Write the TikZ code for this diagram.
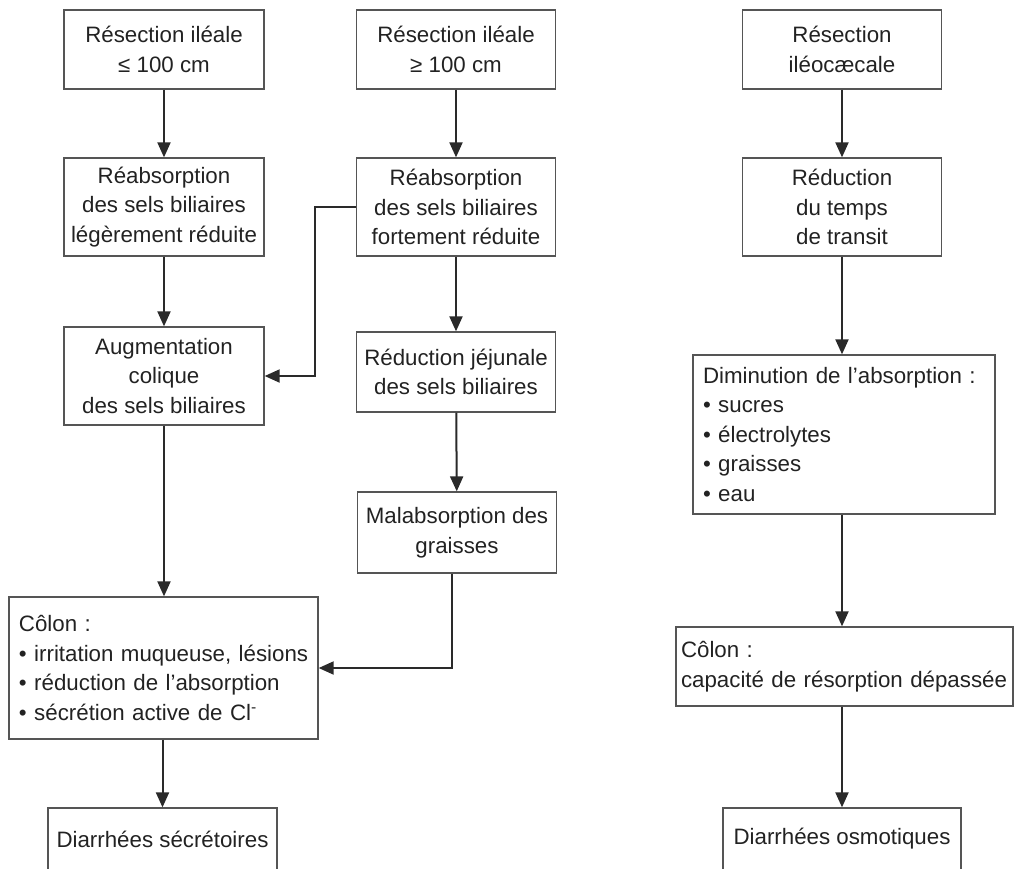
\documentclass[tikz,border=0pt]{standalone}
\usepackage{fontspec}
\setmainfont{Liberation Sans}
\usepackage{tikz}
\usetikzlibrary{arrows.meta,calc}

\definecolor{boxgray}{HTML}{555555}
\definecolor{arrowgray}{HTML}{2A2A2A}
\definecolor{textgray}{HTML}{222222}

\tikzset{
  box/.style={draw=boxgray, line width=1.3pt, text=textgray, align=center, inner sep=0pt,
    font=\fontsize{22.3}{29.5}\selectfont},
  listbox/.style={box, align=left, inner xsep=10pt},
  flow/.style={draw=arrowgray, line width=2pt,
    -{Triangle[length=15pt,width=13pt]}}
}

\begin{document}
\begin{tikzpicture}[x=1pt,y=1pt]
\useasboundingbox (0,0) rectangle (1015,-868);

%Short ileal resection
\node[box, minimum width=200pt, minimum height=79pt] (short1) at (164,-49.5) {Résection iléale\\≤ 100 cm};
\node[box, minimum width=200pt, minimum height=98pt] (short2) at (164,-207) {Réabsorption\\des sels biliaires\\légèrement réduite};
\node[box, minimum width=200pt, minimum height=98pt] (short3) at (164,-376) {Augmentation\\colique\\des sels biliaires};
\node[listbox, text width=289pt, minimum height=142pt] (colonS) at (163.5,-668) {Côlon :\\\mbox{• irritation muqueuse, lésions}\\\mbox{• réduction de l’absorption}\\\mbox{• sécrétion active de Cl\textsuperscript{-}}};
\node[box, minimum width=229pt, minimum height=62pt] (diarS) at (162.5,-839) {Diarrhées sécrétoires};

%Long ileal resection
\node[box, minimum width=199pt, minimum height=79pt] (long1) at (456,-49.5) {Résection iléale\\≥ 100 cm};
\node[box, minimum width=199pt, minimum height=98pt] (long2) at (456,-207) {Réabsorption\\des sels biliaires\\fortement réduite};
\node[box, minimum width=199pt, minimum height=80pt] (long3) at (456,-372) {Réduction jéjunale\\des sels biliaires};
\node[box, minimum width=199pt, minimum height=81pt] (long4) at (457,-532.5) {Malabsorption des\\graisses};

%Ileocaecal resection
\node[box, minimum width=199pt, minimum height=79pt] (ic1) at (842,-49.5) {Résection\\iléocæcale};
\node[box, minimum width=199pt, minimum height=98pt] (ic2) at (842,-207) {Réduction\\du temps\\de transit};
\node[listbox, text width=282pt, minimum height=159pt] (ic3) at (844,-434.5) {\mbox{Diminution de l’absorption :}\\• sucres\\• électrolytes\\• graisses\\• eau};
\node[listbox, inner xsep=5pt, text width=327pt, minimum height=79pt] (colonO) at (844.5,-666.5) {Côlon :\\\mbox{capacité de résorption dépassée}};
\node[box, minimum width=238pt, minimum height=62pt] (diarO) at (842,-839) {Diarrhées osmotiques};

%Arrows left column
\draw[flow] (short1) -- (short2);
\draw[flow] (short2) -- (short3);
\draw[flow] (short3) -- (short3 |- colonS.north);
\draw[flow] (colonS.south -| diarS) -- (diarS);

%Arrows middle column
\draw[flow] (long1) -- (long2);
\draw[flow] (long2) -- (long3);
\draw[flow] (long3) -- (long4);
\draw[flow] (long2.west) -- ++(-41,0) |- (short3.east);
\draw[flow] ([xshift=-5pt]long4.south) |- (colonS.east);

%Arrows right column
\draw[flow] (ic1) -- (ic2);
\draw[flow] (ic2) -- (ic2 |- ic3.north);
\draw[flow] (ic3.south -| ic2) -- (ic2 |- colonO.north);
\draw[flow] (colonO.south -| diarO) -- (diarO);

\end{tikzpicture}
\end{document}
